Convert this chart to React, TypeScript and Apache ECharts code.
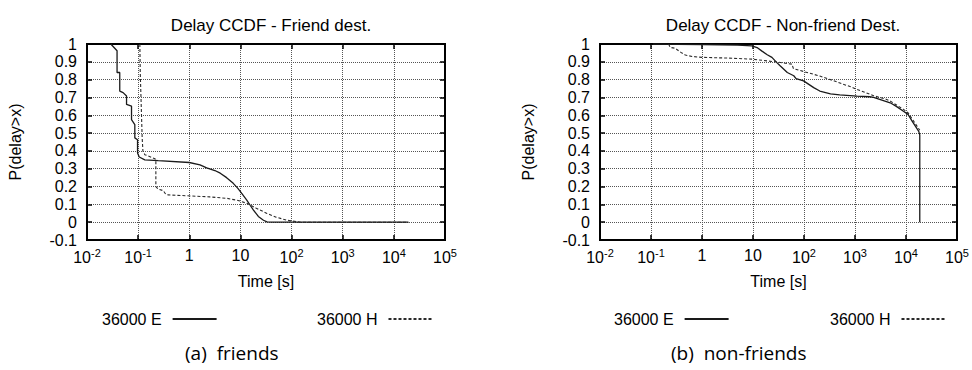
import React, { useEffect, useRef } from "react";
import * as echarts from "echarts";

// ---- Data (time in seconds, probability P(delay > x)) ----
const friendE: [number, number][] = [
  [0.0292, 1.0], [0.0387, 0.962], [0.0387, 0.84], [0.0437, 0.84], [0.0437, 0.736],
  [0.0508, 0.727], [0.0593, 0.708], [0.0593, 0.661], [0.0742, 0.651], [0.0742, 0.576],
  [0.0861, 0.548], [0.0861, 0.473], [0.0973, 0.463], [0.0973, 0.388], [0.105, 0.366],
  [0.135, 0.35], [0.247, 0.345], [1.0, 0.335], [1.62, 0.322], [2.19, 0.305], [3.16, 0.29],
  [4.03, 0.275], [5.37, 0.25], [7.24, 0.218], [8.91, 0.19], [10.7, 0.16], [13.3, 0.124],
  [15.5, 0.095], [18, 0.068], [22.4, 0.032], [28.2, 0.011], [33.1, 0.002], [39.8, 0], [19000, 0],
];
const friendH: [number, number][] = [
  [0.108, 1.0], [0.11, 0.84], [0.115, 0.65], [0.12, 0.47], [0.124, 0.4], [0.135, 0.379],
  [0.212, 0.356], [0.222, 0.35], [0.222, 0.2], [0.246, 0.186], [0.309, 0.177], [0.344, 0.158],
  [0.389, 0.153], [1.1, 0.147], [2.5, 0.142], [5.4, 0.134], [9, 0.122], [13.3, 0.106],
  [20, 0.08], [33, 0.049], [50, 0.028], [81, 0.011], [148, 0.0], [19500, 0],
];
const nonFriendE: [number, number][] = [
  [0.11, 1.0], [1, 0.997], [5, 0.994], [9.5, 0.99], [12, 0.98], [15, 0.96], [19, 0.94],
  [23.5, 0.925], [29, 0.897], [34, 0.878], [47, 0.84], [63, 0.822], [70, 0.806], [98, 0.793],
  [155, 0.755], [204, 0.736], [331, 0.72], [501, 0.715], [1096, 0.708], [1950, 0.704],
  [2317, 0.7], [4900, 0.67], [6457, 0.65], [8913, 0.623], [10965, 0.605], [13180, 0.567],
  [17780, 0.51], [18620, 0.49], [18620, 0],
];
const nonFriendH: [number, number][] = [
  [0.221, 1.0], [0.239, 0.981], [0.299, 0.976], [0.348, 0.962], [0.405, 0.949], [0.471, 0.938],
  [0.637, 0.93], [1, 0.925], [3.3, 0.921], [9.5, 0.915], [27.4, 0.9], [58, 0.887], [62, 0.862],
  [100, 0.845], [155, 0.83], [204, 0.82], [331, 0.8], [912, 0.755], [1096, 0.745], [2317, 0.71],
  [4074, 0.69], [4900, 0.68], [8913, 0.633], [10965, 0.614], [14125, 0.567], [18620, 0.516],
];

const titles = ["Delay CCDF - Friend dest.", "Delay CCDF - Non-friend Dest."];
const captions = ["(a)  friends", "(b)  non-friends"];
const seriesNames = ["36000 E", "36000 H"];
const yMin = -0.1;
const yMax = 1;
const xMin = 0.01;
const xMax = 100000;

const FONT = "Liberation Sans";

export default function App() {
  const ref = useRef<HTMLDivElement>(null);

  useEffect(() => {
    if (!ref.current) return;
    const chart = echarts.init(ref.current, undefined, { renderer: "svg" });

    const grids = [
      { left: 87, top: 44, width: 358, height: 196 },
      { left: 600, top: 44, width: 357, height: 196 },
    ];

    const xLabel = (v: number) => {
      const e = Math.round(Math.log10(v));
      if (e === 0) return "1";
      if (e === 1) return "10";
      return `10{sup|${e}}`;
    };

    const gridLine = { show: true, lineStyle: { color: "#555", type: [1, 1] as any, width: 1 } };
    const frameLine = { show: true, onZero: false, lineStyle: { color: "#000", width: 2 } };
    const tick = { show: true, inside: true, length: 5, lineStyle: { color: "#000", width: 1.5 } };

    const xAxes: any[] = [];
    const yAxes: any[] = [];
    [0, 1].forEach((g) => {
      xAxes.push({
        type: "log",
        logBase: 10,
        gridIndex: g,
        min: xMin,
        max: xMax,
        interval: 1,
        name: "Time [s]",
        nameLocation: "middle",
        nameGap: 33,
        nameTextStyle: { fontFamily: FONT, fontSize: 16, color: "#000" },
        axisLine: frameLine,
        axisTick: tick,
        splitLine: gridLine,
        minorTick: { show: false },
        axisLabel: {
          formatter: xLabel,
          fontFamily: FONT,
          fontSize: 16,
          color: "#000",
          margin: 7,
          rich: {
            sup: { fontFamily: FONT, fontSize: 11, color: "#000", verticalAlign: "top", padding: [0, 0, 9, 0] },
          },
        },
      });
      yAxes.push({
        type: "value",
        gridIndex: g,
        min: yMin,
        max: yMax,
        interval: 0.1,
        name: "P(delay>x)",
        nameLocation: "middle",
        nameGap: 64,
        nameRotate: 90,
        nameTextStyle: { fontFamily: FONT, fontSize: 16, color: "#000" },
        axisLine: frameLine,
        axisTick: tick,
        splitLine: gridLine,
        axisLabel: {
          formatter: (v: number) => String(Math.round(v * 10) / 10),
          fontFamily: FONT,
          fontSize: 16,
          color: "#000",
          margin: 10,
        },
      });
    });
    // mirrored axes (top / right) for gnuplot-style ticks
    [0, 1].forEach((g) => {
      xAxes.push({
        type: "log",
        logBase: 10,
        gridIndex: g,
        position: "top",
        min: xMin,
        max: xMax,
        interval: 1,
        axisLine: frameLine,
        axisTick: tick,
        axisLabel: { show: false },
        splitLine: { show: false },
      });
      yAxes.push({
        type: "value",
        gridIndex: g,
        position: "right",
        min: yMin,
        max: yMax,
        interval: 0.1,
        axisLine: frameLine,
        axisTick: tick,
        axisLabel: { show: false },
        splitLine: { show: false },
      });
    });

    const solidStyle = { color: "#1a1a1a", width: 1.3, type: "solid" as const };
    const dashStyle = { color: "#2a2a2a", width: 1.1, type: [3, 2] as any };

    const mk = (name: string, data: [number, number][], idx: number, style: any) => ({
      name,
      type: "line",
      xAxisIndex: idx,
      yAxisIndex: idx,
      data,
      symbol: "none",
      showSymbol: false,
      color: "#1a1a1a",
      lineStyle: style,
      z: 5,
    });

    const legendBase = {
      orient: "horizontal",
      align: "right",
      padding: 0,
      itemWidth: 44,
      itemHeight: 14,
      top: 311,
      selectedMode: false,
      itemStyle: { opacity: 0 },
      textStyle: { fontFamily: FONT, fontSize: 16, color: "#000", padding: [0, 6, 0, 0] },
    };

    chart.setOption({
      animation: false,
      backgroundColor: "#fff",
      title: [
        {
          text: titles[0],
          left: 266,
          top: 12,
          textAlign: "center",
          textStyle: { fontFamily: FONT, fontSize: 17, fontWeight: "normal", color: "#000" },
        },
        {
          text: titles[1],
          left: 778,
          top: 12,
          textAlign: "center",
          textStyle: { fontFamily: FONT, fontSize: 17, fontWeight: "normal", color: "#000" },
        },
      ],
      grid: grids.map((g) => ({ ...g, show: true, borderColor: "#000", borderWidth: 2, backgroundColor: "transparent" })),
      xAxis: xAxes,
      yAxis: yAxes,
      legend: [
        { ...legendBase, left: 102, data: [seriesNames[0]] },
        { ...legendBase, left: 317, data: [seriesNames[1]] },
        { ...legendBase, left: 614, data: [seriesNames[0]] },
        { ...legendBase, left: 830, data: [seriesNames[1]] },
      ],
      series: [
        mk(seriesNames[0], friendE, 0, solidStyle),
        mk(seriesNames[1], friendH, 0, dashStyle),
        mk(seriesNames[0], nonFriendE, 1, solidStyle),
        mk(seriesNames[1], nonFriendH, 1, dashStyle),
      ],
      graphic: [
        {
          type: "text",
          left: 185,
          top: 343,
          style: { text: captions[0], fontFamily: "Open Sans", fontSize: 19, fill: "#000" },
        },
        {
          type: "text",
          left: 671,
          top: 343,
          style: { text: captions[1], fontFamily: "Open Sans", fontSize: 19, fill: "#000" },
        },
      ],
    });

    return () => chart.dispose();
  }, []);

  return <div ref={ref} style={{ position: "absolute", left: 0, top: 0, width: 972, height: 370 }} />;
}
